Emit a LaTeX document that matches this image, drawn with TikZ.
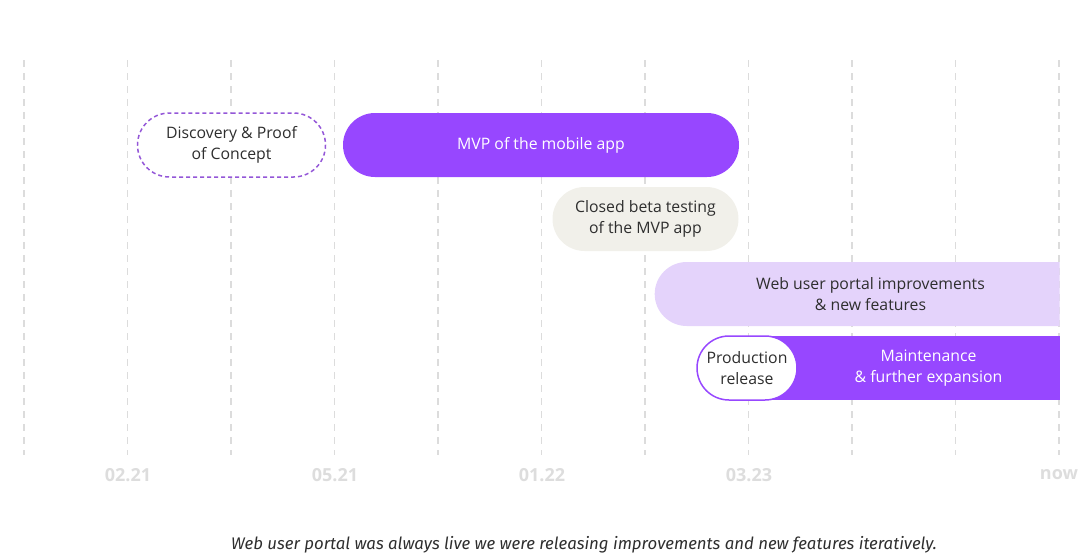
\documentclass[tikz,border=0pt]{standalone}
\usepackage{fontspec}
\setmainfont{Open Sans}
\newfontfamily\capfont{Fira Sans}
\usetikzlibrary{shapes.misc,positioning,calc}
\definecolor{mvppurple}{HTML}{9747FF}
\definecolor{dashpurple}{HTML}{9457D8}
\definecolor{lightlav}{HTML}{E4D3FB}
\definecolor{betagray}{HTML}{F1F0EA}
\definecolor{gridgray}{HTML}{DCDCDC}
\definecolor{dategray}{HTML}{DDDDDD}
\definecolor{inkdark}{HTML}{2E2E2E}

\begin{document}
\begin{tikzpicture}[x=1pt, y=-1pt, semithick]
\tikzstyle{bar}=[rounded rectangle, minimum height=64pt, inner sep=0pt, align=center,
  font=\fontsize{15.8}{21}\selectfont, text=inkdark]
\tikzstyle{date}=[font=\fontsize{18}{20}\selectfont\bfseries, text=dategray]
\useasboundingbox (0,0) rectangle (1080,554);
% grid
\foreach \i in {0,...,10}
  \draw[gridgray, line width=1.6pt, dash pattern=on 7pt off 6pt] (24+103.5*\i,60) -- (24+103.5*\i,455);
% dates
\node[date] (d1) at (128,475) {02.21};
\node[date] (d2) at (335,475) {05.21};
\node[date] (d3) at (542,475) {01.22};
\node[date] (d4) at (749,475) {03.23};
\node[date] (d5) at (1059,475) {now};
% bars
\node[bar, draw=dashpurple, line width=1.5pt, dash pattern=on 4pt off 3pt, fill=white,
  minimum width=188pt] (disc) at (231.5,145) {Discovery \& Proof\\of Concept};
\node[bar, fill=mvppurple, text=white, minimum width=396pt] (mvp) at (541,145) {MVP of the mobile app};
\node[bar, fill=betagray, minimum width=186pt] (beta) at (645.5,219) {Closed beta testing\\of the MVP app};
\node[bar, fill=lightlav, rounded rectangle east arc=none, minimum width=405pt,
  anchor=east] (portal) at (1060,294) {\hspace*{22pt}Web user portal improvements\\\hspace*{22pt}\& new features};
\node[rectangle, minimum height=64pt, minimum width=263pt, inner sep=0pt, fill=mvppurple,
  text=white, align=center, font=\fontsize{15.8}{21}\selectfont] (maint) at (928.5,368)
  {Maintenance\\\& further expansion};
\fill[mvppurple] (maint.north west) ++(-40,0) rectangle (maint.south west);
\node[bar, draw=mvppurple, line width=1.5pt, fill=white, minimum width=100pt] (prod) at (747,368)
  {Production\\release};
% caption
\node[font=\capfont\itshape\fontsize{16.8}{20}\selectfont, text=inkdark] (cap) at (584,545)
  {Web user portal was always live we were releasing improvements and new features iteratively.};
\end{tikzpicture}
\end{document}
